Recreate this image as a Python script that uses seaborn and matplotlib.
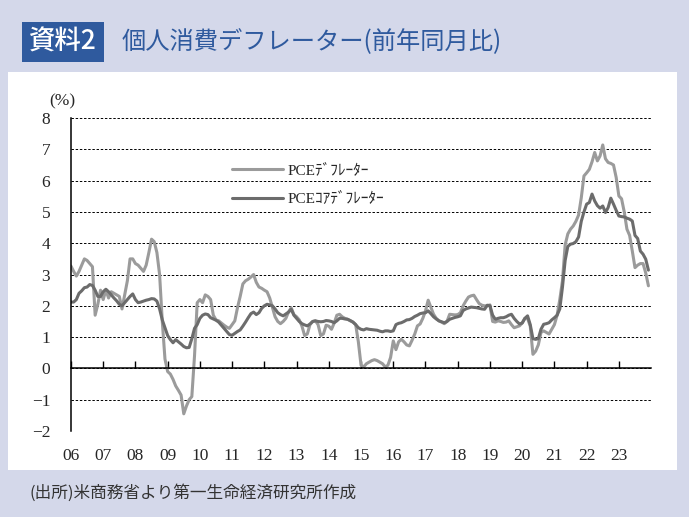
import numpy as np
import pandas as pd
import matplotlib
matplotlib.use("Agg")
import matplotlib.pyplot as plt
from matplotlib.patches import Rectangle
import seaborn as sns

# monthly YoY (%), Jan 2006 - Dec 2023
start_month = "2006-01"
pce = [
    3.27, 3.1, 2.95, 3.1, 3.3, 3.5, 3.45, 3.35, 3.25, 1.7, 2.05, 2.5,
    2.2, 2.5, 2.25, 2.45, 2.4, 2.35, 2.3, 1.9, 2.35, 2.8, 3.5, 3.5,
    3.35, 3.3, 3.2, 3.1, 3.3, 3.7, 4.13, 4.05, 3.7, 3.0, 1.5, 0.3,
    -0.1, -0.18, -0.35, -0.56, -0.7, -0.85, -1.45, -1.2, -1.0, -0.9, 0.4, 2.1,
    2.2, 2.1, 2.35, 2.3, 2.2, 1.7, 1.55, 1.52, 1.45, 1.38, 1.32, 1.28,
    1.4, 1.52, 1.94, 2.3, 2.7, 2.8, 2.85, 2.92, 3.0, 2.75, 2.6, 2.56,
    2.5, 2.45, 2.25, 1.95, 1.65, 1.5, 1.43, 1.5, 1.6, 1.8, 1.94, 1.72,
    1.65, 1.55, 1.35, 1.05, 1.1, 1.4, 1.5, 1.52, 1.4, 1.05, 1.1, 1.38,
    1.35, 1.25, 1.45, 1.7, 1.73, 1.65, 1.6, 1.57, 1.52, 1.48, 1.4, 0.85,
    0.1, 0.05, 0.15, 0.2, 0.25, 0.28, 0.25, 0.2, 0.15, 0.05, 0.1, 0.35,
    0.88, 0.6, 0.85, 0.93, 0.85, 0.75, 0.72, 0.9, 1.1, 1.36, 1.42, 1.6,
    1.84, 2.18, 1.95, 1.73, 1.6, 1.52, 1.48, 1.43, 1.5, 1.73, 1.72, 1.71,
    1.72, 1.78, 2.0, 2.15, 2.28, 2.32, 2.34, 2.2, 2.07, 2.02, 2.0, 2.0,
    2.03, 1.5, 1.48, 1.52, 1.5, 1.47, 1.48, 1.52, 1.4, 1.3, 1.33, 1.36,
    1.45, 1.6, 1.6, 1.35, 0.45, 0.55, 0.75, 1.15, 1.2, 1.15, 1.1, 1.25,
    1.4, 1.7, 2.2, 2.8, 3.95, 4.3, 4.45, 4.55, 4.7, 4.9, 5.45, 6.15,
    6.25, 6.36, 6.6, 6.9, 6.63, 6.79, 7.14, 6.7, 6.58, 6.55, 6.5, 6.1,
    5.51, 5.42, 5.0, 4.45, 4.25, 3.75, 3.22, 3.3, 3.35, 3.35, 3.05, 2.64,
]
core_pce = [
    2.12, 2.12, 2.2, 2.4, 2.48, 2.58, 2.6, 2.68, 2.65, 2.5, 2.3, 2.3,
    2.45, 2.53, 2.45, 2.35, 2.25, 2.16, 2.05, 2.0, 2.1, 2.2, 2.3, 2.38,
    2.2, 2.1, 2.12, 2.15, 2.18, 2.2, 2.23, 2.22, 2.15, 1.9, 1.55, 1.3,
    1.05, 0.92, 0.82, 0.92, 0.85, 0.78, 0.7, 0.66, 0.67, 0.95, 1.28, 1.4,
    1.6, 1.7, 1.74, 1.72, 1.62, 1.58, 1.54, 1.48, 1.38, 1.28, 1.18, 1.08,
    1.06, 1.12, 1.18, 1.23, 1.35, 1.48, 1.62, 1.75, 1.8, 1.72, 1.78, 1.92,
    2.0, 2.05, 2.03, 2.0, 1.9, 1.78, 1.72, 1.68, 1.74, 1.8, 1.89, 1.7,
    1.6, 1.5, 1.43, 1.39, 1.36, 1.42, 1.5, 1.52, 1.5, 1.49, 1.5, 1.53,
    1.52, 1.5, 1.46, 1.52, 1.6, 1.6, 1.58, 1.57, 1.53, 1.48, 1.4, 1.3,
    1.25, 1.23, 1.27, 1.25, 1.24, 1.23, 1.22, 1.19, 1.17, 1.2, 1.2, 1.18,
    1.2, 1.4, 1.44, 1.46, 1.5, 1.55, 1.56, 1.6, 1.66, 1.7, 1.75, 1.77,
    1.78, 1.84, 1.75, 1.65, 1.58, 1.52, 1.49, 1.46, 1.5, 1.57, 1.6, 1.63,
    1.65, 1.68, 1.85, 1.9, 1.93, 1.96, 1.95, 1.94, 1.92, 1.9, 1.89, 2.02,
    2.0, 1.7, 1.57, 1.6, 1.62, 1.62, 1.65, 1.7, 1.73, 1.6, 1.5, 1.42,
    1.45, 1.6, 1.68, 1.4, 0.95, 0.93, 0.95, 1.25, 1.41, 1.43, 1.46, 1.55,
    1.62, 1.7, 1.9, 2.6, 3.45, 3.9, 3.97, 3.99, 4.05, 4.2, 4.7, 5.0,
    5.25, 5.3, 5.57, 5.35, 5.2, 5.12, 5.19, 4.98, 5.14, 5.44, 5.25, 5.05,
    4.87, 4.85, 4.84, 4.8, 4.77, 4.71, 4.25, 4.15, 3.75, 3.65, 3.49, 3.14,
]
series_names = ["PCEﾃﾞﾌﾚｰﾀｰ", "PCEｺｱﾃﾞﾌﾚｰﾀｰ"]
year_ticks = list(range(2006, 2024))
year_labels = ["06", "07", "08", "09", "10", "11", "12", "13", "14",
               "15", "16", "17", "18", "19", "20", "21", "22", "23"]
y_ticks = list(range(-2, 9))

sns.set_style("white")
plt.rcParams["font.family"] = ["Liberation Serif", "Noto Sans CJK JP"]
plt.rcParams["axes.unicode_minus"] = True

months = pd.date_range(start_month, periods=len(pce), freq="MS")
t = np.asarray(months.year + (months.month - 1) / 12.0)
df = pd.DataFrame({
    "t": np.concatenate([t, t]),
    "value": pce + core_pce,
    "series": [series_names[0]] * len(pce) + [series_names[1]] * len(core_pce),
})

bg = "#d4d8ea"
blue = "#2f5a9e"
fig = plt.figure(figsize=(6.89, 5.17), dpi=100, facecolor=bg)
fig.patches.append(Rectangle((0.0116, 0.0909), 0.971, 0.770, transform=fig.transFigure,
                             facecolor="white", edgecolor="none", zorder=-2))
fig.patches.append(Rectangle((0.0319, 0.880), 0.119, 0.0774, transform=fig.transFigure,
                             facecolor=blue, edgecolor="none", zorder=-2))
fig.text(0.0914, 0.9188, "資料2", color="white", fontsize=19, ha="center", va="center",
         family=["Noto Sans CJK JP"], fontweight="medium")
fig.text(0.177, 0.9188, "個人消費デフレーター(前年同月比)", color=blue, fontsize=17.5,
         ha="left", va="center", family=["Noto Sans CJK JP"])
fig.text(0.0435, 0.0464, "(出所)米商務省より第一生命経済研究所作成", color="#333333",
         fontsize=12, ha="left", va="center", family=["Noto Sans CJK JP"])
fig.text(0.09, 0.8046, "(%)", fontsize=12.5, ha="center", va="center",
         family=["Liberation Serif"])

ax = fig.add_axes([0.103, 0.1663, 0.842, 0.6054])
ax.set_zorder(2)
ax.set_facecolor("none")
sns.lineplot(data=df, x="t", y="value", hue="series", hue_order=series_names,
             palette=["#9b9b9b", "#6c6c6c"], linewidth=2.2, ax=ax)

ax.set_xlim(2006, 2024)
ax.set_ylim(-2, 8)
ax.set_yticks(y_ticks)
ax.grid(axis="y", color="black", linestyle=(0, (2.5, 1.8)), linewidth=0.7)
ax.set_axisbelow(True)
ax.tick_params(axis="y", length=0, pad=15, labelsize=12.5)
ax.set_xlabel("")
ax.set_ylabel("")

for side in ["top", "right"]:
    ax.spines[side].set_visible(False)
ax.spines["left"].set_color("black")
ax.spines["left"].set_linewidth(1.1)
ax.spines["bottom"].set_position(("data", 0))
ax.spines["bottom"].set_color("black")
ax.spines["bottom"].set_linewidth(1.1)
ax.set_xticks(year_ticks)
ax.tick_params(axis="x", direction="in", length=5, width=1, color="black",
               labelbottom=False, bottom=True)

sec = ax.secondary_xaxis("bottom")
sec.set_xticks(year_ticks, labels=year_labels)
sec.tick_params(length=0, pad=12, labelsize=12.5)
sec.spines["bottom"].set_visible(False)

handles, labels = ax.get_legend_handles_labels()
ax.legend(handles, labels, loc="upper left", bbox_to_anchor=(0.278, 0.855),
          frameon=False, fontsize=11, handlelength=3.35, handletextpad=0.3,
          labelspacing=0.98, borderpad=0, borderaxespad=0)

fig.savefig("out.png", dpi=100, facecolor=bg)
